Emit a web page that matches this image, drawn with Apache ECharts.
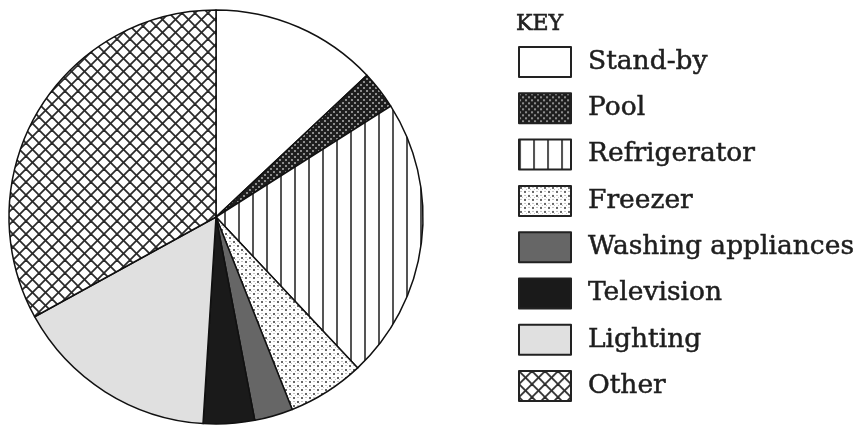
<!DOCTYPE html>
<html><head><meta charset="utf-8">
<script src="https://cdn.jsdelivr.net/npm/echarts@6/dist/echarts.min.js"></script>
<style>html,body{margin:0;padding:0;background:#fff}#c{width:859px;height:426px}</style>
</head><body><div id="c"></div>
<script>
const categories = ['Stand-by','Pool','Refrigerator','Freezer','Washing appliances','Television','Lighting','Other'];
const values = [13, 3, 22, 6, 3, 4, 16, 33];
const keyTitle = 'KEY';

function tile(w, h, draw) {
  const c = document.createElement('canvas');
  c.width = w; c.height = h;
  const g = c.getContext('2d');
  draw(g, w, h);
  return { image: c, repeat: 'repeat' };
}
const poolFill = tile(6, 6, (g) => {
  g.fillStyle = '#1e1e1e'; g.fillRect(0, 0, 6, 6);
  g.fillStyle = '#8c8c8c'; g.fillRect(0, 0, 2, 2); g.fillRect(3, 3, 2, 2);
});
const fridgeFill = tile(14, 4, (g) => {
  g.fillStyle = '#fff'; g.fillRect(0, 0, 14, 4);
  g.fillStyle = '#555'; g.fillRect(0, 0, 2, 4);
});
const freezerFill = tile(8, 8, (g) => {
  g.fillStyle = '#fff'; g.fillRect(0, 0, 8, 8);
  g.fillStyle = '#666'; g.fillRect(1, 1, 2, 2); g.fillRect(5, 5, 2, 2);
  g.fillStyle = '#c4c4c4'; g.fillRect(5, 1, 2, 1); g.fillRect(1, 5, 2, 1); g.fillRect(3, 3, 1, 1); g.fillRect(7, 3, 1, 1);
});
const otherFill = tile(13, 13, (g, w, h) => {
  g.fillStyle = '#fff'; g.fillRect(0, 0, w, h);
  g.strokeStyle = '#2a2a2a'; g.lineWidth = 1.8;
  for (const o of [-w, 0, w]) {
    g.beginPath(); g.moveTo(o, 0); g.lineTo(o + w, h); g.stroke();
    g.beginPath(); g.moveTo(o, h); g.lineTo(o + w, 0); g.stroke();
  }
});
const fills = ['#ffffff', poolFill, fridgeFill, freezerFill, '#666666', '#1a1a1a', '#e0e0e0', otherFill];

const chart = echarts.init(document.getElementById('c'), null, { renderer: 'canvas' });
chart.setOption({
  animation: false,
  title: {
    text: keyTitle, left: 511, top: 8,
    textStyle: { fontFamily: 'DejaVu Serif', fontSize: 22, fontWeight: 'normal', color: '#222',
      textBorderColor: '#222', textBorderWidth: 0.6 }
  },
  legend: {
    orient: 'vertical', left: 513, top: 41,
    itemWidth: 52, itemHeight: 30, itemGap: 14.3,
    icon: 'rect', selectedMode: false,
    itemStyle: { borderColor: '#222', borderWidth: 2 },
    textStyle: { fontFamily: 'DejaVu Serif', fontSize: 26.5, lineHeight: 30, color: '#1e1e1e', padding: [0, 0, 0, 12],
      textBorderColor: '#1e1e1e', textBorderWidth: 0.5 },
    data: categories
  },
  series: [{
    type: 'pie',
    center: [216, 217], radius: 207,
    startAngle: 90, clockwise: true,
    label: { show: false }, labelLine: { show: false },
    emphasis: { disabled: true },
    itemStyle: { borderColor: '#111', borderWidth: 1.5 },
    data: categories.map((n, i) => ({ name: n, value: values[i], itemStyle: { color: fills[i] } }))
  }]
});
</script></body></html>
